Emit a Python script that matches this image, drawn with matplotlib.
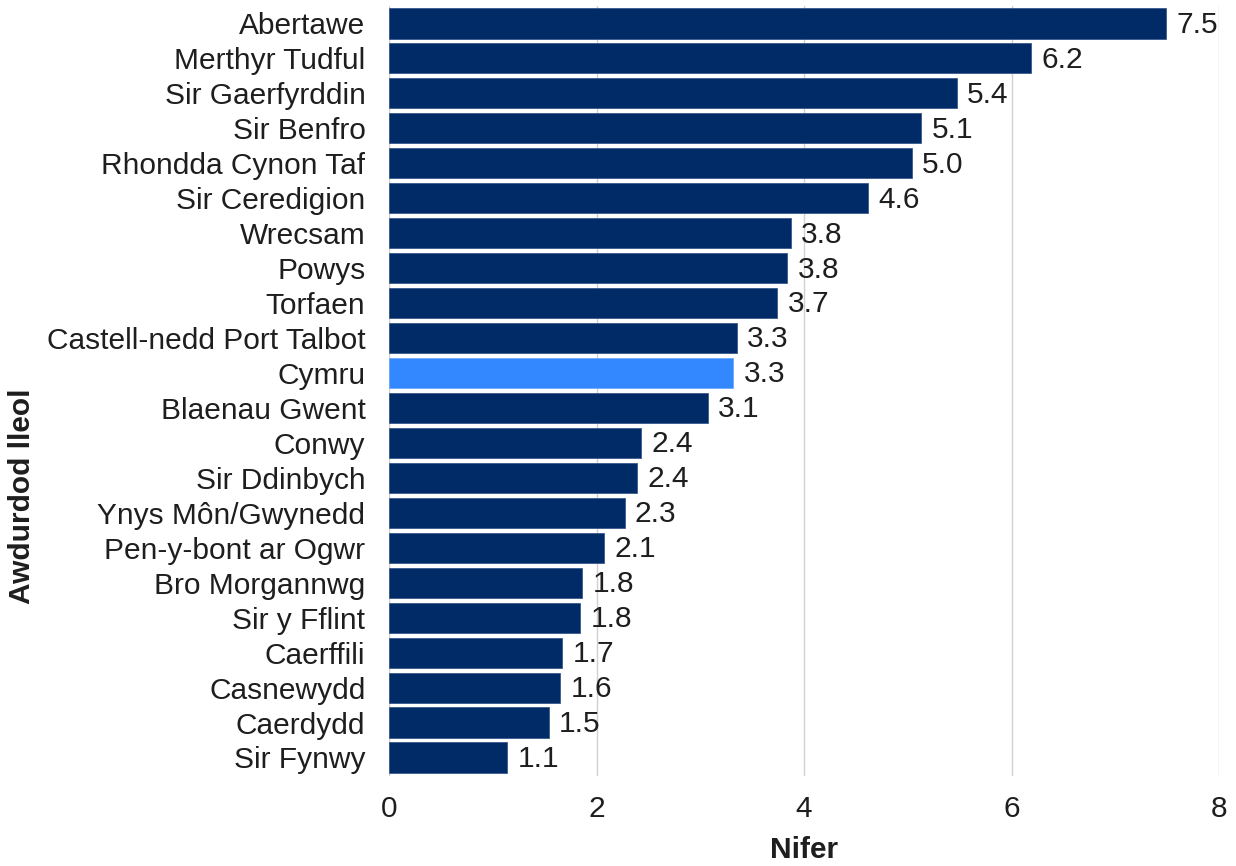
import matplotlib
matplotlib.use("Agg")
import matplotlib.pyplot as plt

categories = ["Abertawe", "Merthyr Tudful", "Sir Gaerfyrddin", "Sir Benfro",
              "Rhondda Cynon Taf", "Sir Ceredigion", "Wrecsam", "Powys", "Torfaen",
              "Castell-nedd Port Talbot", "Cymru", "Blaenau Gwent", "Conwy",
              "Sir Ddinbych", "Ynys Môn/Gwynedd", "Pen-y-bont ar Ogwr",
              "Bro Morgannwg", "Sir y Fflint", "Caerffili", "Casnewydd",
              "Caerdydd", "Sir Fynwy"]
values = [7.49, 6.19, 5.47, 5.13, 5.04, 4.62, 3.87, 3.84, 3.74, 3.35, 3.32, 3.07,
          2.43, 2.39, 2.27, 2.07, 1.86, 1.84, 1.67, 1.65, 1.54, 1.14]
labels = ["7.5", "6.2", "5.4", "5.1", "5.0", "4.6", "3.8", "3.8", "3.7", "3.3", "3.3",
          "3.1", "2.4", "2.4", "2.3", "2.1", "1.8", "1.8", "1.7", "1.6", "1.5", "1.1"]
highlight = "Cymru"

plt.rcParams['font.family'] = ['Liberation Sans', 'DejaVu Sans']
FS = 21.5
TXT = "#1E1E1E"

fig = plt.figure(figsize=(12.36, 8.66), dpi=100)
ax = fig.add_axes([389/1236, 90/866, 830/1236, 770/866])

n = len(categories)
ypos = list(range(n))
colors = ["#3388FF" if c == highlight else "#002B66" for c in categories]
edges = ["#6FA8FF" if c == highlight else "#3A5A8C" for c in categories]
bars = ax.barh(ypos, values, height=0.86, color=colors, edgecolor=edges, linewidth=0.6, zorder=3)

for b, lab in zip(bars, labels):
    ax.text(b.get_width() + 0.1, b.get_y() + b.get_height() / 2 + 0.04, lab,
            va="center", ha="left", fontsize=FS, color=TXT, zorder=4)

ax.set_ylim(n - 0.47, -0.5)
ax.set_xlim(0, 8)
ax.set_xticks([0, 2, 4, 6, 8])
ax.set_yticks(ypos)
ax.set_yticklabels(categories)
ax.tick_params(axis="both", length=0, labelsize=FS, labelcolor=TXT)
ax.tick_params(axis="x", pad=14)
ax.tick_params(axis="y", pad=17)
ax.grid(axis="x", color="#D0D0D0", linewidth=1, zorder=0)
for s in ax.spines.values():
    s.set_visible(False)

ax.set_xlabel("Nifer", fontsize=FS, fontweight="bold", color=TXT)
ax.xaxis.set_label_coords(0.5, -60/770)
ax.set_ylabel("Awdurdod lleol", fontsize=FS, fontweight="bold", color=TXT)
ax.yaxis.set_label_coords(-(389 - 36) / 830, (776 - 496) / 770)

fig.savefig("out.png", dpi=100)
